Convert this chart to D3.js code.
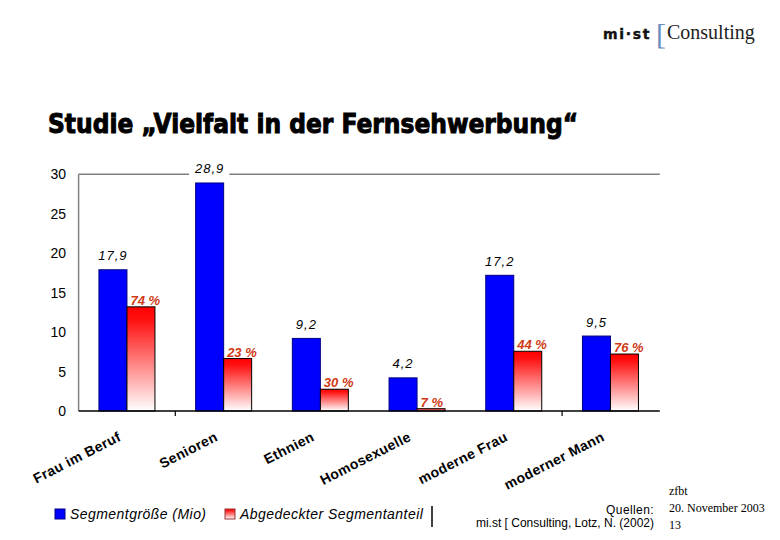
<!DOCTYPE html>
<html><head><meta charset="utf-8">
<script src="https://cdn.jsdelivr.net/npm/d3@7/dist/d3.min.js"></script>
<style>body{margin:0;background:#fff}svg{display:block}</style>
</head><body>
<svg id="c" width="780" height="540"></svg>
<script>
const categories = ["Frau im Beruf","Senioren","Ethnien","Homosexuelle","moderne Frau","moderner Mann"];
const segmentSize = [17.9, 28.9, 9.2, 4.2, 17.2, 9.5];
const sizeLabels = ["17,9","28,9","9,2","4,2","17,2","9,5"];
const coveredValue = [13.2, 6.65, 2.76, 0.29, 7.57, 7.22];
const coveredLabels = ["74 %","23 %","30 %","7 %","44 %","76 %"];
const yTicks = [0,5,10,15,20,25,30];
const seriesNames = ["Segmentgröße (Mio)","Abgedeckter Segmentanteil"];

const svg = d3.select("#c");
const defs = svg.append("defs");
const g1 = defs.append("linearGradient").attr("id","redg").attr("x1",0).attr("y1",0).attr("x2",0).attr("y2",1);
g1.append("stop").attr("offset","0").attr("stop-color","#ff0000");
g1.append("stop").attr("offset","0.12").attr("stop-color","#ff1010");
g1.append("stop").attr("offset","1").attr("stop-color","#ffffff");

const x = d3.scaleBand().domain(categories).range([78.6, 658.8]).padding(0);
const y = d3.scaleLinear().domain([0,30]).range([411, 174.3]);
const bw = 28;

// frame: left and top gray lines
svg.append("line").attr("x1",x.range()[0]).attr("x2",x.range()[0]).attr("y1",y(30)).attr("y2",y(0)).attr("stroke","#808080").attr("stroke-width",1.5);
svg.append("line").attr("x1",x.range()[0]).attr("x2",x.range()[1]+1).attr("y1",y(30)).attr("y2",y(30)).attr("stroke","#808080").attr("stroke-width",1.5);

// y tick labels
svg.append("g").selectAll("text").data(yTicks).join("text")
  .attr("x",66).attr("y",d=>y(d)+5).attr("text-anchor","end")
  .attr("font-family","Liberation Sans, Arial, sans-serif").attr("font-size",14).attr("fill","#000")
  .text(d=>d);

// blue bars
svg.append("g").selectAll("rect").data(segmentSize).join("rect")
  .attr("x",(d,i)=>x(categories[i])+x.bandwidth()/2-bw)
  .attr("y",d=>y(d)).attr("width",bw).attr("height",d=>y(0)-y(d))
  .attr("fill","#0000ff").attr("stroke","#000080").attr("stroke-width",1);

// red bars
svg.append("g").selectAll("rect").data(coveredValue).join("rect")
  .attr("x",(d,i)=>x(categories[i])+x.bandwidth()/2)
  .attr("y",d=>y(d)).attr("width",bw).attr("height",d=>y(0)-y(d))
  .attr("fill","url(#redg)").attr("stroke","#000").attr("stroke-width",1);

// baseline + ticks
svg.append("line").attr("x1",x.range()[0]).attr("x2",x.range()[1]+1).attr("y1",y(0)).attr("y2",y(0)).attr("stroke","#000").attr("stroke-width",1.5);
[1,5].forEach(i=>{
  svg.append("line").attr("x1",x(categories[i])).attr("x2",x(categories[i])).attr("y1",y(0)).attr("y2",y(0)+5).attr("stroke","#000").attr("stroke-width",1.2);
});

// blue value labels
const lg = svg.append("g");
segmentSize.forEach((d,i)=>{
  const cx = x(categories[i])+x.bandwidth()/2-bw/2;
  const t = lg.append("text").attr("x",cx).attr("y",y(d)-9.5).attr("text-anchor","middle")
    .attr("font-family","Liberation Sans, Arial, sans-serif").attr("font-style","italic").attr("font-size",13)
    .attr("letter-spacing",1).attr("fill","#000").text(sizeLabels[i]);
  if (y(d)-22 < y(30)) {
    const bb = t.node().getBBox();
    lg.insert("rect","text").attr("x",bb.x-5).attr("y",y(30)-3).attr("width",bb.width+10).attr("height",6).attr("fill","#fff");
  }
});

// red labels
svg.append("g").selectAll("text").data(coveredValue).join("text")
  .attr("x",(d,i)=>x(categories[i])+x.bandwidth()/2+3.5)
  .attr("y",d=>y(d)-2)
  .attr("font-family","Liberation Sans, Arial, sans-serif").attr("font-style","italic").attr("font-weight","bold")
  .attr("font-size",13).attr("fill","#d03a14")
  .text((d,i)=>coveredLabels[i]);

// category labels
svg.append("g").selectAll("text").data(categories).join("text")
  .attr("transform",d=>`translate(${x(d)+x.bandwidth()/2-5},440) rotate(-27)`)
  .attr("text-anchor","end")
  .attr("font-family","Liberation Sans, Arial, sans-serif").attr("font-weight","bold").attr("font-size",14)
  .attr("letter-spacing",0.4)
  .attr("fill","#000").text(d=>d);

// title
svg.append("text").attr("x",48).attr("y",133)
  .attr("font-family","DejaVu Sans, sans-serif").attr("font-weight","bold").attr("font-size",26)
  .attr("stroke","#000").attr("stroke-width",1)
  .attr("textLength",530).attr("lengthAdjust","spacingAndGlyphs")
  .text("Studie „Vielfalt in der Fernsehwerbung“");

// logo
svg.append("text").attr("x",603).attr("y",39).attr("font-family","DejaVu Sans, sans-serif")
  .attr("font-weight","bold").attr("font-size",14).attr("letter-spacing",0.6).attr("stroke","#111").attr("stroke-width",0.4)
  .attr("textLength",47).attr("fill","#111").text("mi·st");
svg.append("text").attr("x",656).attr("y",44).attr("font-family","Liberation Serif, serif")
  .attr("font-size",30).attr("fill","#6a8cc0").text("[");
svg.append("text").attr("x",667).attr("y",39).attr("font-family","Liberation Serif, serif")
  .attr("font-size",20).attr("fill","#222").text("Consulting");

// legend
const lgY = 509;
svg.append("rect").attr("x",55).attr("y",lgY).attr("width",10).attr("height",10).attr("fill","#0000ff").attr("stroke","#000080");
svg.append("text").attr("x",70).attr("y",lgY+10).attr("font-family","Liberation Sans, Arial, sans-serif")
  .attr("font-style","italic").attr("font-size",14).attr("letter-spacing",0.45).attr("fill","#000").text(seriesNames[0]);
svg.append("rect").attr("x",225).attr("y",lgY).attr("width",10).attr("height",10).attr("fill","url(#redg)").attr("stroke","#993333");
svg.append("text").attr("x",240).attr("y",lgY+10).attr("font-family","Liberation Sans, Arial, sans-serif")
  .attr("font-style","italic").attr("font-size",14).attr("letter-spacing",0.45).attr("fill","#000").text(seriesNames[1]);
svg.append("line").attr("x1",432).attr("x2",432).attr("y1",506).attr("y2",527).attr("stroke","#000").attr("stroke-width",1.5);

// sources
svg.append("text").attr("x",654).attr("y",514).attr("text-anchor","end").attr("font-family","Liberation Sans, Arial, sans-serif")
  .attr("font-size",12).attr("letter-spacing",0.4).attr("fill","#000").text("Quellen:");
svg.append("text").attr("x",654).attr("y",527).attr("text-anchor","end").attr("font-family","Liberation Sans, Arial, sans-serif")
  .attr("font-size",12).attr("fill","#000").text("mi.st [ Consulting, Lotz, N. (2002)");
const foot = ["zfbt","20. November 2003","13"];
svg.append("g").selectAll("text").data(foot).join("text")
  .attr("x",669).attr("y",(d,i)=>495+i*17).attr("font-family","Liberation Serif, serif")
  .attr("font-size",12).attr("fill","#000").text(d=>d);
</script>
</body></html>
